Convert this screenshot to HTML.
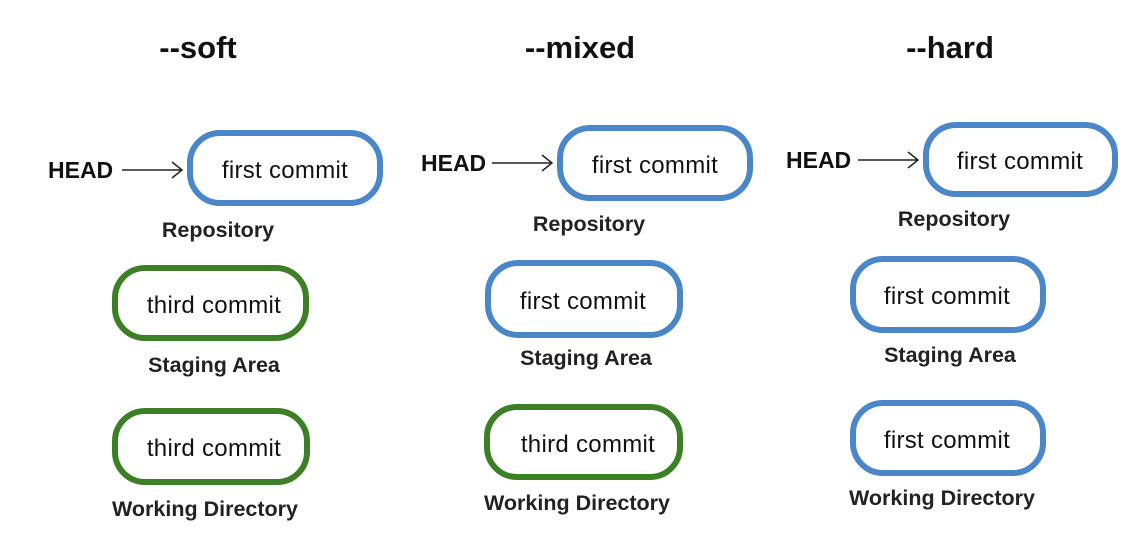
<!DOCTYPE html>
<html><head><meta charset="utf-8"><style>
html,body{margin:0;padding:0;background:#fff;width:1147px;height:537px;overflow:hidden}
svg{display:block}
.t{font-family:"Liberation Sans",sans-serif;font-weight:bold;fill:#111}
.c{font-family:"Liberation Sans",sans-serif;font-size:24px;fill:#111;text-anchor:middle;letter-spacing:0.3px}
.l{font-family:"Liberation Sans",sans-serif;font-weight:bold;font-size:21.5px;fill:#222;text-anchor:middle}
.b{fill:none;stroke:#4a86c8;stroke-width:6}
.g{fill:none;stroke:#3d7f27;stroke-width:6}
.h{font-family:"Liberation Sans",sans-serif;font-weight:bold;font-size:23px;fill:#111}
.a{stroke:#222;stroke-width:1.5;fill:none}
</style></head><body>
<svg width="1147" height="537" viewBox="0 0 1147 537">
<text class="t" x="198" y="58" font-size="31" text-anchor="middle">--soft</text>
<text class="t" x="580" y="58" font-size="31" text-anchor="middle">--mixed</text>
<text class="t" x="950" y="58" font-size="31" text-anchor="middle">--hard</text>

<!-- soft -->
<text class="h" x="48" y="178">HEAD</text>
<path class="a" d="M122 170 H182 M172 162 L182 170 L172 178"/>
<rect class="b" x="190" y="133" width="190" height="70" rx="30"/>
<text class="c" x="285" y="178">first commit</text>
<text class="l" x="218" y="237">Repository</text>
<rect class="g" x="115" y="268" width="191" height="70" rx="30"/>
<text class="c" x="214" y="313">third commit</text>
<text class="l" x="214" y="372">Staging Area</text>
<rect class="g" x="115" y="411" width="192" height="71" rx="30"/>
<text class="c" x="214" y="456">third commit</text>
<text class="l" x="205" y="516">Working Directory</text>

<!-- mixed -->
<text class="h" x="421" y="171">HEAD</text>
<path class="a" d="M492 163 H552 M542 155 L552 163 L542 171"/>
<rect class="b" x="560" y="128" width="190" height="70" rx="30"/>
<text class="c" x="655" y="173">first commit</text>
<text class="l" x="589" y="231">Repository</text>
<rect class="b" x="488" y="263" width="192" height="72" rx="30"/>
<text class="c" x="583" y="309">first commit</text>
<text class="l" x="586" y="365">Staging Area</text>
<rect class="g" x="487" y="407" width="193" height="70" rx="30"/>
<text class="c" x="588" y="452">third commit</text>
<text class="l" x="577" y="510">Working Directory</text>

<!-- hard -->
<text class="h" x="786" y="168">HEAD</text>
<path class="a" d="M858 160 H918 M908 152 L918 160 L908 168"/>
<rect class="b" x="926" y="125" width="189" height="69" rx="30"/>
<text class="c" x="1020" y="169">first commit</text>
<text class="l" x="954" y="226">Repository</text>
<rect class="b" x="853" y="259" width="190" height="71" rx="30"/>
<text class="c" x="947" y="304">first commit</text>
<text class="l" x="950" y="362">Staging Area</text>
<rect class="b" x="853" y="403" width="190" height="70" rx="30"/>
<text class="c" x="947" y="448">first commit</text>
<text class="l" x="942" y="505">Working Directory</text>
</svg>
</body></html>
